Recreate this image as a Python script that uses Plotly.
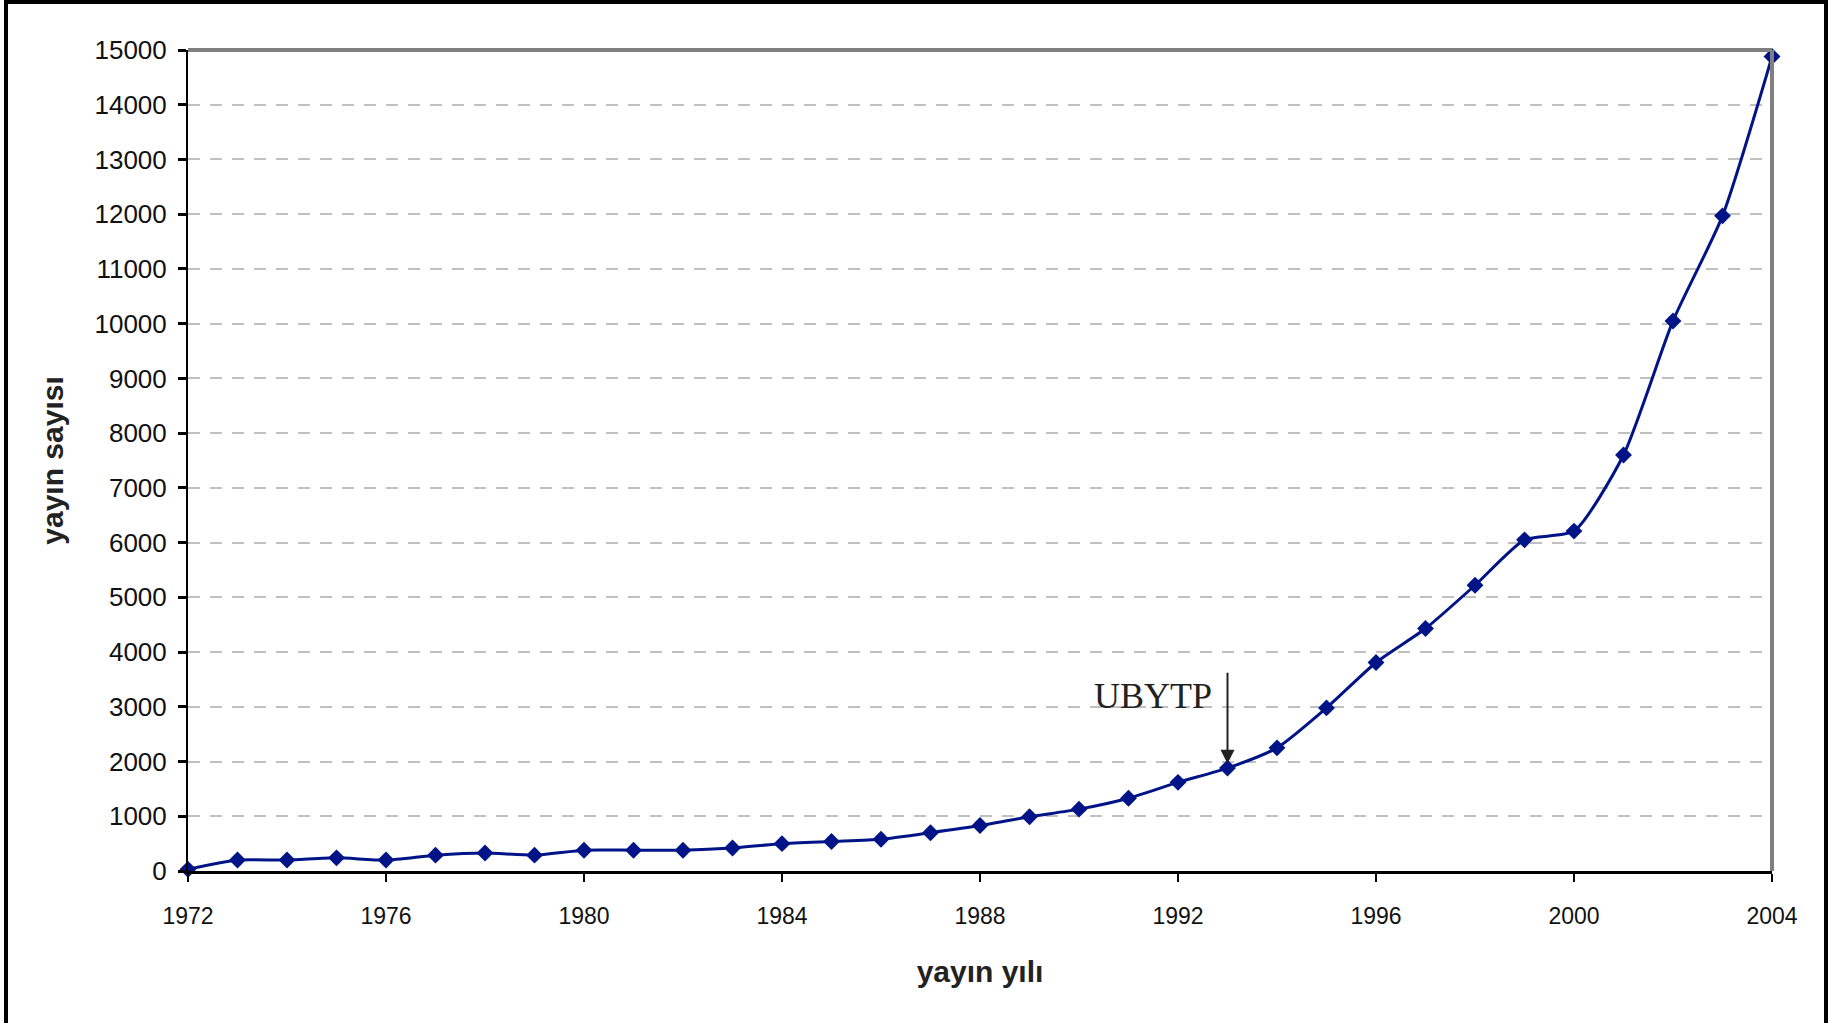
import plotly.graph_objects as go

years = list(range(1972, 2005))
counts = [30, 200, 200, 240, 200, 290, 330, 290, 380, 380, 380, 420,
          500, 540, 580, 700, 830, 990, 1130, 1330, 1620, 1880, 2250, 2980,
          3810, 4430, 5220, 6050, 6210, 7600, 10050, 11970, 14880]

y_ticks = list(range(0, 15001, 1000))
x_ticks = [1972, 1976, 1980, 1984, 1988, 1992, 1996, 2000, 2004]

annot_text = "UBYTP"
annot_year = 1993
annot_tip = 1960
annot_tail = 3650
annot_text_pos = (1991.5, 3200)

W, H = 1831, 1023
ML, MR, MT, MB = 188, 59, 50, 152
PW, PH = W - ML - MR, H - MT - MB

navy = "#001488"

fig = go.Figure()
fig.add_trace(go.Scatter(
    x=years, y=counts, mode="lines+markers",
    line=dict(color=navy, width=3, shape="spline", smoothing=0.6),
    marker=dict(symbol="diamond", size=13, color=navy),
    cliponaxis=False, showlegend=False,
))

fig.update_layout(
    width=W, height=H,
    margin=dict(l=ML, r=MR, t=MT, b=MB),
    paper_bgcolor="white", plot_bgcolor="white",
    font=dict(family="Liberation Sans, Arial, sans-serif", color="black"),
    xaxis=dict(
        range=[1972, 2004], tickvals=x_ticks, ticktext=[str(v) for v in x_ticks],
        showgrid=False, zeroline=False,
        showline=True, linecolor="black", linewidth=3,
        ticks="outside", ticklen=8, tickwidth=2, tickcolor="black",
        tickfont=dict(size=23, color="#111"), ticklabelstandoff=14,
        title=dict(text="<b>yayın yılı</b>", font=dict(size=30, color="#222"), standoff=34),
    ),
    yaxis=dict(
        range=[0, 15000], tickvals=y_ticks, ticktext=[str(v) for v in y_ticks],
        showgrid=True, gridcolor="#c0c0c0", gridwidth=2, griddash="12px,10px",
        zeroline=False,
        showline=True, linecolor="black", linewidth=2,
        ticks="outside", ticklen=8, tickwidth=3, tickcolor="black",
        tickfont=dict(size=26, color="#111"), ticklabelstandoff=6,
        title=dict(text="<b>yayın sayısı</b>", font=dict(size=30, color="#222"), standoff=22),
    ),
)

# grey frame on top and right of the plot area
fig.add_shape(type="line", xref="paper", yref="paper", x0=0, x1=1, y0=1, y1=1,
              line=dict(color="#808080", width=4))
fig.add_shape(type="line", xref="paper", yref="paper", x0=1, x1=1, y0=0, y1=1,
              line=dict(color="#808080", width=4))

# outer black border of the whole picture
fig.add_shape(type="rect", xref="paper", yref="paper",
              x0=(6 - ML) / PW, x1=(1826 - ML) / PW,
              y0=(H - 1030 - MB) / PH, y1=(H - 2 - MB) / PH,
              line=dict(color="black", width=4))

fig.add_annotation(x=annot_year, y=annot_tip, ax=annot_year, ay=annot_tail,
                   xref="x", yref="y", axref="x", ayref="y",
                   showarrow=True, arrowhead=2, arrowsize=1.4, arrowwidth=2,
                   arrowcolor="#222", text="")
fig.add_annotation(x=annot_text_pos[0], y=annot_text_pos[1], xref="x", yref="y",
                   text=annot_text, showarrow=False,
                   font=dict(family="Liberation Serif, Times New Roman, serif", size=36, color="#222"))

fig.write_html("out.html", config={"displayModeBar": False},
               post_script="document.body.style.margin='0';")
